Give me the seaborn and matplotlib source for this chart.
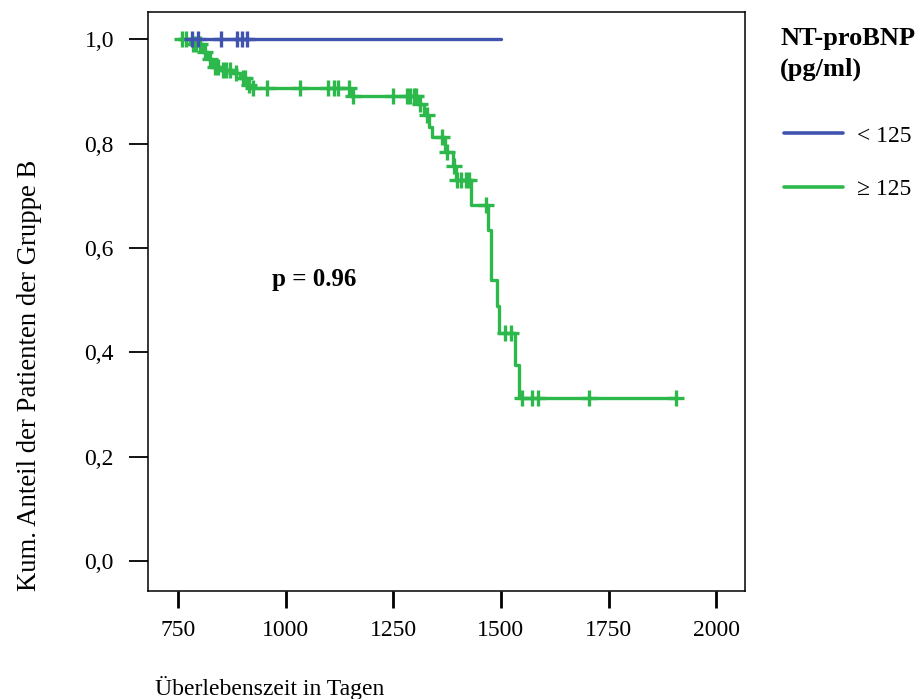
import numpy as np
import pandas as pd
import matplotlib
matplotlib.use("Agg")
import matplotlib.pyplot as plt
import seaborn as sns
from matplotlib.lines import Line2D

# ---- data ----
groups = ["< 125", "\u2265 125"]
colors = ["#4053AE", "#2DB84B"]

# step function (event times and survival level after each time)
blue_times = [768]
blue_surv = [1.0]
blue_end = 1500
blue_censor = [782, 797, 850, 886, 898, 911]

green_times = [752, 778, 805, 820, 828, 848, 878, 894, 910, 917, 1150,
               1306, 1322, 1334, 1340, 1370, 1389, 1396, 1431, 1469, 1477,
               1491, 1495, 1533, 1543]
green_surv = [1.0, 0.991, 0.975, 0.962, 0.948, 0.942, 0.936, 0.927, 0.913,
              0.907, 0.892, 0.876, 0.855, 0.833, 0.812, 0.785, 0.758, 0.73,
              0.683, 0.634, 0.539, 0.488, 0.438, 0.376, 0.313]
green_end = 1910
green_censor = [760, 768, 785, 792, 800, 812, 825, 835, 842, 855, 862, 870,
                885, 900, 906, 914, 925, 956, 1033, 1099, 1111, 1122, 1146,
                1157, 1250, 1281, 1289, 1297, 1302, 1312, 1328, 1362, 1374,
                1391, 1398, 1407, 1418, 1426, 1466, 1510, 1524, 1549, 1572,
                1586, 1705, 1907]

x_ticks = [750, 1000, 1250, 1500, 1750, 2000]
y_ticks = [0.0, 0.2, 0.4, 0.6, 0.8, 1.0]
y_tick_labels = ["0,0", "0,2", "0,4", "0,6", "0,8", "1,0"]
p_text = "p = 0.96"


def step_frame(times, surv, end, name):
    t = list(times) + [end]
    s = list(surv) + [surv[-1]]
    return pd.DataFrame({"t": t, "s": s, "g": name})


def censor_frame(times, surv, ctimes, name):
    idx = np.searchsorted(np.array(times), np.array(ctimes), side="right") - 1
    idx = np.clip(idx, 0, None)
    return pd.DataFrame({"t": ctimes, "s": np.array(surv)[idx], "g": name})


lines = pd.concat([step_frame(green_times, green_surv, green_end, groups[1]),
                   step_frame(blue_times, blue_surv, blue_end, groups[0])])
cens = pd.concat([censor_frame(green_times, green_surv, green_censor, groups[1]),
                  censor_frame(blue_times, blue_surv, blue_censor, groups[0])])
palette = dict(zip(groups, colors))

sns.set_style("ticks")
plt.rcParams["font.family"] = ["Liberation Serif", "DejaVu Serif"]
plt.rcParams["text.color"] = "black"
plt.rcParams["xtick.color"] = "black"
plt.rcParams["ytick.color"] = "black"
plt.rcParams["axes.labelcolor"] = "black"

fig = plt.figure(figsize=(9.22, 6.99), dpi=100)
ax = fig.add_axes([148 / 922, 1 - 591 / 699, (745 - 148) / 922, (591 - 12) / 699])

for g in [groups[1], groups[0]]:
    sub = lines[lines.g == g]
    sns.lineplot(data=sub, x="t", y="s", color=palette[g], drawstyle="steps-post",
                 estimator=None, sort=False, lw=2.4, ax=ax, legend=False)
    csub = cens[cens.g == g]
    sns.scatterplot(data=csub, x="t", y="s", color=palette[g], marker="+",
                    s=130, linewidth=2.4, ax=ax, legend=False, zorder=3)

ax.set_xlim(680, 2067)
ax.set_ylim(-0.0575, 1.0526)
ax.set_xticks(x_ticks)
ax.set_xticklabels([str(v) for v in x_ticks])
ax.set_yticks(y_ticks)
ax.set_yticklabels(y_tick_labels)
ax.tick_params(axis="x", length=12, width=2, pad=9, labelsize=17, color="black",
               labelcolor="black")
ax.tick_params(axis="y", length=13.5, width=1.3, pad=11, labelsize=17, color="black",
               labelcolor="black")
for sp in ax.spines.values():
    sp.set_visible(True)
    sp.set_color("black")
    sp.set_linewidth(1.1)
ax.set_xlabel("")
ax.set_ylabel("")

ax.text(968, 0.539, p_text, fontsize=18, fontweight="bold", ha="left", va="center",
        color="black")

fig.text(30 / 922, 1 - 375 / 699, "Kum. Anteil der Patienten der Gruppe B",
         rotation=90, ha="center", va="center", fontsize=19.3, color="black")
fig.text(155 / 922, 1 - 688 / 699, "\u00dcberlebenszeit in Tagen",
         ha="left", va="center", fontsize=17, color="black")

fig.text(780 / 922, 1 - 54 / 699, "NT-proBNP\n(pg/ml)", fontweight="bold",
         fontsize=19, ha="left", va="center", linespacing=1.42, color="black")
handles = [Line2D([], [], color=palette[g], lw=2.6) for g in groups]
leg = fig.legend(handles, groups, loc="upper left", bbox_to_anchor=(784 / 922, 1 - 125 / 699),
                 frameon=False, fontsize=17, handlelength=2.5, handletextpad=0.6,
                 labelspacing=1.35, borderaxespad=0, borderpad=0)
for t in leg.get_texts():
    t.set_color("black")

fig.savefig("out.png", dpi=100)
